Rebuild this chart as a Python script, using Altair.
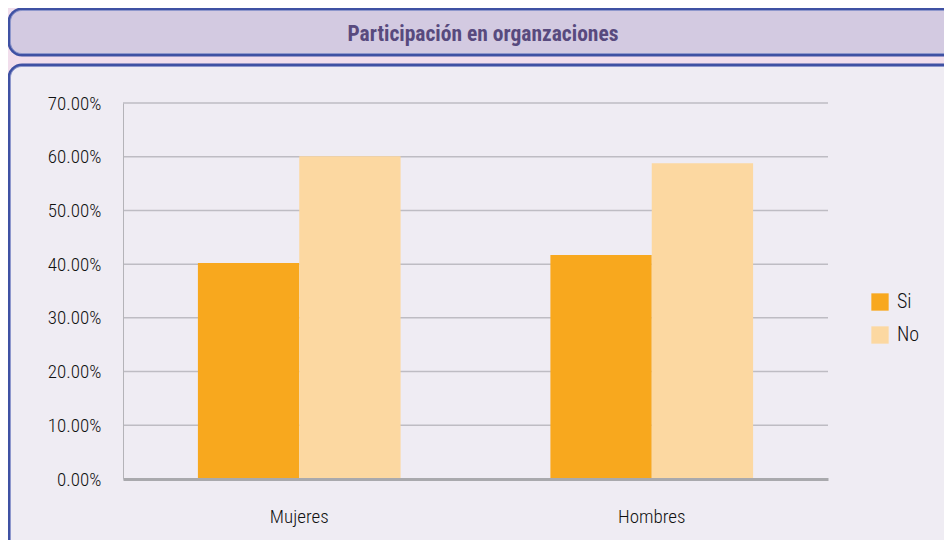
import altair as alt
import pandas as pd

categories = ["Mujeres", "Mujeres", "Hombres", "Hombres"]
series = ["Si", "No", "Si", "No"]
values = [0.402, 0.601, 0.417, 0.588]
tick_values = [0, 0.1, 0.2, 0.3, 0.4, 0.5, 0.6, 0.7]
title_text = "Participación en organzaciones"

df = pd.DataFrame({"grupo": categories, "serie": series, "valor": values})
grid_df = pd.DataFrame({"v": tick_values[1:]})

FONT = "Roboto Condensed, Liberation Sans Narrow, Roboto, sans-serif"
W, H = 705, 376

# decorative frames (title box and panel box)
deco = pd.DataFrame({"k": [0]})
title_box = alt.Chart(deco).mark_rect(
    fill="#D3CAE1", stroke="#3F51A3", strokeWidth=3, cornerRadius=13, clip=False
).encode(x=alt.value(-114), x2=alt.value(W + 140), y=alt.value(-94), y2=alt.value(-48))
title_inner = alt.Chart(deco).mark_rect(
    fill=None, stroke="#8E97CC", strokeWidth=1, cornerRadius=11, clip=False
).encode(x=alt.value(-112.5), x2=alt.value(W + 140), y=alt.value(-92.5), y2=alt.value(-49.5))
panel_box = alt.Chart(deco).mark_rect(
    fill="#EFECF3", stroke="#3F51A3", strokeWidth=3, cornerRadius=13, clip=False
).encode(x=alt.value(-114), x2=alt.value(W + 140), y=alt.value(-38), y2=alt.value(H + 120))
panel_inner = alt.Chart(deco).mark_rect(
    fill=None, stroke="#8E97CC", strokeWidth=1, cornerRadius=11, clip=False
).encode(x=alt.value(-112.5), x2=alt.value(W + 140), y=alt.value(-36.5), y2=alt.value(H + 120))
title_mark = alt.Chart(pd.DataFrame({"t": [title_text]})).mark_text(
    font=FONT, fontSize=21.5, fontWeight="bold", color="#584A7E", align="center", baseline="middle"
).encode(text="t:N", x=alt.value(360), y=alt.value(-68))

yscale = alt.Scale(domain=[0, 0.7], nice=False)
yaxis = alt.Axis(format=".2%", values=tick_values,
                 labelFont=FONT, labelFontSize=19, labelFontWeight=300, labelColor="#111111",
                 labelPadding=22, ticks=False, domain=True, domainColor="#B4B3B8",
                 domainWidth=1, grid=False, zindex=1)

grid = alt.Chart(grid_df).mark_rule(color="#BEBCC3", strokeWidth=1.5).encode(
    y=alt.Y("v:Q", scale=yscale, axis=yaxis, title=None),
    x=alt.value(0), x2=alt.value(W),
)

bars = alt.Chart(df).mark_bar().encode(
    x=alt.X("grupo:N", sort=["Mujeres", "Hombres"], title=None,
            scale=alt.Scale(paddingInner=0.425, paddingOuter=0.2125),
            axis=alt.Axis(labelAngle=0, labelFont=FONT, labelFontSize=19, labelFontWeight=300,
                          labelColor="#111111",
                          labelPadding=28, ticks=False, domain=True, domainColor="#A9A9AD",
                          domainWidth=3, grid=False, zindex=1)),
    xOffset=alt.XOffset("serie:N", sort=["Si", "No"], scale=alt.Scale(paddingInner=0, paddingOuter=0)),
    y=alt.Y("valor:Q", title=None, scale=yscale, axis=yaxis),
    color=alt.Color("serie:N", sort=["Si", "No"],
                    scale=alt.Scale(domain=["Si", "No"], range=["#F8A81E", "#FCD8A1"]),
                    legend=alt.Legend(title=None, orient="none", legendX=747, legendY=189,
                                      symbolType="square", symbolSize=300, symbolStrokeWidth=0,
                                      labelFont=FONT, labelFontSize=20, labelFontWeight=300,
                                      labelColor="#111111",
                                      rowPadding=13, labelOffset=7)),
)

chart = alt.layer(title_box, title_inner, panel_box, panel_inner, title_mark, grid, bars).properties(
    width=W, height=H,
    autosize=alt.AutoSizeParams(type="none"),
    padding={"left": 115, "top": 95, "right": 116, "bottom": 61},
    background="#F1DEEC",
).configure_view(stroke=None)

chart.save("out.html", embed_options={"renderer": "svg", "actions": False})
